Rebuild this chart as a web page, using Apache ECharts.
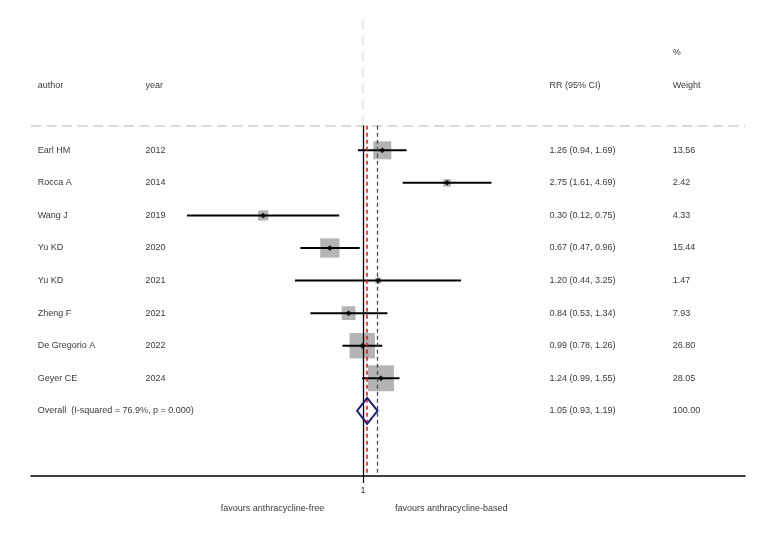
<!DOCTYPE html>
<html>
<head>
<meta charset="utf-8">
<script src="https://cdn.jsdelivr.net/npm/echarts@6/dist/echarts.min.js"></script>
<style>
html, body { margin: 0; padding: 0; background: #fff; }
#forest { width: 762px; height: 544px; }
</style>
</head>
<body>
<div id="forest"></div>
<script>
// study data
var authors = ['Earl HM', 'Rocca A', 'Wang J', 'Yu KD', 'Yu KD', 'Zheng F', 'De Gregorio A', 'Geyer CE'];
var years = ['2012', '2014', '2019', '2020', '2021', '2021', '2022', '2024'];
var rr = [1.26, 2.75, 0.30, 0.67, 1.20, 0.84, 0.99, 1.24];
var lower = [0.94, 1.61, 0.12, 0.47, 0.44, 0.53, 0.78, 0.99];
var upper = [1.69, 4.69, 0.75, 0.96, 3.25, 1.34, 1.26, 1.55];
var weights = [13.56, 2.42, 4.33, 15.44, 1.47, 7.93, 26.80, 28.05];

// pooled estimate
var overallLabel = 'Overall  (I-squared = 76.9%, p = 0.000)';
var overallRR = [1.05, 0.93, 1.19];   // estimate, lower, upper
var overallWeight = 100.00;

var headers = ['author', 'year', 'RR (95% CI)', 'Weight'];
var xTicks = [1];
var favours = ['favours anthracycline-free', 'favours anthracycline-based'];

// layout (log-RR units on x, row index on y)
var colX = [-3.92, -2.62, 2.245, 3.73];
var xMin = -4.0, xMax = 4.6;
var yTop = -4, yBottom = 10;
var sepRow = -0.75;
var overallRow = authors.length;
var font = 'Liberation Sans, Arial, sans-serif';
var fs = 9;

var ln = Math.log;
function fmt(v) { return v.toFixed(2); }
function ciText(e, l, u) { return fmt(e) + ' (' + fmt(l) + ', ' + fmt(u) + ')'; }

// text table
var textData = [];
function addText(x, y, s, side) {
    textData.push({ name: s, value: [x, y], label: { position: side || 'right' } });
}
headers.forEach(function (h, i) { addText(colX[i], -2, h); });
addText(colX[3], -3, '%');
authors.forEach(function (a, i) {
    addText(colX[0], i, a);
    addText(colX[1], i, years[i]);
    addText(colX[2], i, ciText(rr[i], lower[i], upper[i]));
    addText(colX[3], i, fmt(weights[i]));
});
addText(colX[0], overallRow, overallLabel);
addText(colX[2], overallRow, ciText(overallRR[0], overallRR[1], overallRR[2]));
addText(colX[3], overallRow, fmt(overallWeight));
addText(-0.467, 11, favours[0], 'left');
addText(0.384, 11, favours[1], 'right');

var boxData = [], ciData = [], pointData = [];
rr.forEach(function (v, i) {
    boxData.push([ln(v), i, weights[i]]);
    ciData.push([ln(lower[i]), ln(upper[i]), i]);
    pointData.push([ln(v), i]);
});

var chart = echarts.init(document.getElementById('forest'));
var option = {
    animation: false,
    backgroundColor: '#fff',
    textStyle: { fontFamily: font },
    grid: { left: 31, right: 17, top: 20, bottom: 68 },
    xAxis: {
        type: 'value',
        min: xMin,
        max: xMax,
        axisLine: { show: true, onZero: false, lineStyle: { color: '#000', width: 1.5 } },
        axisTick: { show: true, length: 7, customValues: xTicks.map(ln), lineStyle: { color: '#000', width: 1.2 } },
        axisLabel: {
            customValues: xTicks.map(ln),
            formatter: function (v) { return String(Math.round(Math.exp(v))); },
            color: '#333', fontSize: fs, fontFamily: font, margin: 10
        },
        splitLine: { show: false }
    },
    yAxis: {
        type: 'value',
        inverse: true,
        min: yTop,
        max: yBottom,
        show: false
    },
    series: [
        {
            name: 'weight box',
            type: 'scatter',
            symbol: 'rect',
            symbolSize: function (d) { return 4.9 * Math.sqrt(d[2]); },
            itemStyle: { color: '#b4b4b4', opacity: 1 },
            data: boxData,
            silent: true,
            z: 2
        },
        {
            name: 'reference',
            type: 'scatter',
            data: [],
            z: 3,
            markLine: {
                silent: true,
                symbol: ['none', 'none'],
                label: { show: false },
                animation: false,
                data: [
                    [{ coord: [0, yTop], lineStyle: { color: '#e3e3e3', width: 1.5, type: [10, 6] } }, { coord: [0, sepRow] }],
                    [{ coord: [xMin, sepRow], lineStyle: { color: '#d9d9d9', width: 2, type: [10, 5.5] } }, { coord: [xMax, sepRow] }],
                    [{ coord: [0, sepRow], lineStyle: { color: '#000', width: 1.3, type: 'solid' } }, { coord: [0, yBottom] }],
                    [{ coord: [ln(overallRR[0]), sepRow], lineStyle: { color: '#ff0000', width: 1.5, type: [4, 3] } }, { coord: [ln(overallRR[0]), yBottom] }],
                    [{ coord: [ln(overallRR[2]), sepRow], lineStyle: { color: '#2f4f7f', width: 1.3, type: [4, 3] } }, { coord: [ln(overallRR[2]), yBottom - 0.1] }]
                ]
            }
        },
        {
            name: 'ci',
            type: 'custom',
            silent: true,
            z: 4,
            renderItem: function (params, api) {
                var p1 = api.coord([api.value(0), api.value(2)]);
                var p2 = api.coord([api.value(1), api.value(2)]);
                return {
                    type: 'line',
                    shape: { x1: p1[0], y1: p1[1], x2: p2[0], y2: p2[1] },
                    style: { stroke: '#000', lineWidth: 2 }
                };
            },
            encode: { x: [0, 1], y: 2 },
            data: ciData
        },
        {
            name: 'estimate',
            type: 'scatter',
            symbol: 'diamond',
            symbolSize: 6,
            itemStyle: { color: '#000' },
            data: pointData,
            silent: true,
            z: 5
        },
        {
            name: 'overall',
            type: 'custom',
            silent: true,
            z: 5,
            renderItem: function (params, api) {
                var c = api.coord([api.value(0), api.value(3)]);
                var l = api.coord([api.value(1), api.value(3)]);
                var r = api.coord([api.value(2), api.value(3)]);
                var h = 13;
                return {
                    type: 'polygon',
                    shape: { points: [[l[0], c[1]], [c[0], c[1] - h], [r[0], c[1]], [c[0], c[1] + h]] },
                    style: { fill: 'none', stroke: '#1f1f7a', lineWidth: 2 }
                };
            },
            encode: { x: [0, 1, 2], y: 3 },
            data: [[ln(overallRR[0]), ln(overallRR[1]), ln(overallRR[2]), overallRow]]
        },
        {
            name: 'table',
            type: 'scatter',
            symbolSize: 0,
            silent: true,
            clip: false,
            z: 6,
            label: {
                show: true,
                distance: 0,
                formatter: function (p) { return p.name; },
                color: '#000',
                fontSize: fs,
                fontFamily: font
            },
            data: textData
        }
    ]
};
chart.setOption(option);
</script>
</body>
</html>
